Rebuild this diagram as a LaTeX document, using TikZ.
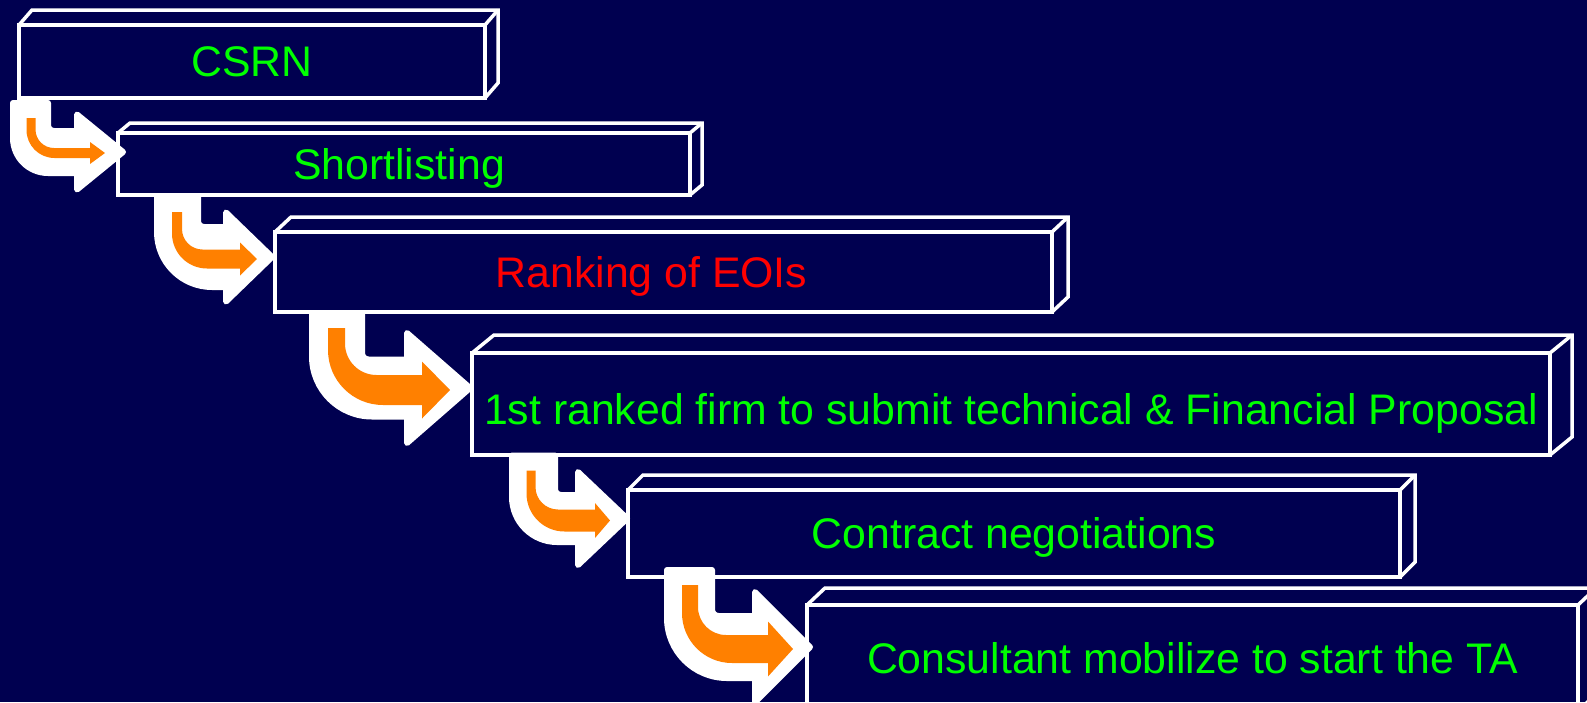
\documentclass[tikz,border=0pt]{standalone}
\usepackage{fontspec}
\setmainfont{Liberation Sans}
\definecolor{bgnavy}{RGB}{0,0,80}
\definecolor{textgreen}{RGB}{0,255,0}
\definecolor{textred}{RGB}{255,0,0}
\definecolor{arroworange}{RGB}{255,128,0}

\tikzset{
  stage/.style={draw=white, line width=3.5pt, text=textgreen, anchor=north west,
    inner sep=0pt, outer sep=0pt, font=\fontsize{42.8}{50}\selectfont,
    text height=30pt, text depth=0pt},
  edge/.style={draw=white, line width=3.5pt},
  whitearrow/.style={fill=white, draw=white, line width=6pt, line join=round},
  orangearrow/.style={fill=arroworange},
}

% 3d sides of a stage box: node, depth x, depth y
\newcommand{\boxdepth}[3]{%
  \draw[edge] (#1.north west) -- ++(#2,-#3) -- ([shift={(#2,-#3)}]#1.north east)
    -- ([shift={(#2,-#3)}]#1.south east) -- (#1.south east);
  \draw[edge] (#1.north east) -- ++(#2,-#3);}

% bent arrow: style, tip, shaft x, shaft top, half widths, head length, head half height, bend radius
\newcommand{\bentarrow}[9]{%
  \pgfmathsetmacro\rin{max(#9-#5-#6,6)}%
  \begin{scope}[shift={(#2)}]
    \path[#1] ({#3-#5},#4) -- ({#3+#5},#4)
      -- ({#3+#5},{-#6-\rin})
      .. controls ({#3+#5},{-#6-0.448*\rin}) and ({#3+#5+0.448*\rin},{-#6}) .. ({#3+#5+\rin},{-#6})
      -- ({-#7},{-#6}) -- ({-#7},{-#8}) -- (0,0) -- ({-#7},#8) -- ({-#7},#6)
      -- ({#3-#5+#9},#6)
      .. controls ({#3-#5+0.448*#9},#6) and ({#3-#5},{#6-0.448*#9}) .. ({#3-#5},{#6-#9})
      -- cycle;
  \end{scope}}

\begin{document}
\begin{tikzpicture}[x=1pt, y=-1pt]
  \useasboundingbox (0,0) rectangle (1587,702);
  \clip (0,0) rectangle (1587,702);
  \fill[bgnavy] (0,0) rectangle (1587,702);

  % the stages
  \node[stage, minimum width=466pt, minimum height=73pt] (csrn) at (19,25) {CSRN};
  \boxdepth{csrn}{13}{15}
  \node[stage, minimum width=572pt, minimum height=62pt] (short) at (118,133) {Shortlisting\hspace*{10pt}};
  \boxdepth{short}{12}{10}
  \node[stage, minimum width=777pt, minimum height=80pt, text=textred] (rank) at (275,232) {Ranking of EOIs\hspace*{24pt}};
  \boxdepth{rank}{16}{15}
  \node[stage, minimum width=1078pt, minimum height=102pt, text height=40pt] (prop) at (472,353) {1st ranked firm to submit technical \& Financial Proposal};
  \boxdepth{prop}{22}{18}
  \node[stage, minimum width=772pt, minimum height=87pt] (nego) at (628,490) {Contract negotiations};
  \boxdepth{nego}{15}{15}
  \node[stage, minimum width=771pt, minimum height=106pt] (mobil) at (807,605) {Consultant mobilize to start the TA};
  \boxdepth{mobil}{18}{17}

  % arrow tips
  \coordinate (tip1) at ([shift={(5,-12)}]short.west);
  \coordinate (tip2) at ([shift={(-3,-15)}]rank.west);
  \coordinate (tip3) at ([shift={(-2,-16)}]prop.west);
  \coordinate (tip4) at ([shift={(-1,-15)}]nego.west);
  \coordinate (tip5) at ([shift={(3,-11)}]mobil.west);
  \coordinate (otip1) at ([shift={(-18,1)}]tip1);
  \coordinate (otip2) at ([shift={(-15,2)}]tip2);
  \coordinate (otip3) at ([shift={(-20,2)}]tip3);
  \coordinate (otip4) at ([shift={(-17,2)}]tip4);
  \coordinate (otip5) at ([shift={(-17,2)}]tip5);

  % CSRN to Shortlisting
  \bentarrow{whitearrow}{tip1}{-92.5}{-49}{17.5}{21}{46}{37.5}{35}
  \bentarrow{orangearrow}{otip1}{-74}{-35}{4.5}{5}{15}{11}{28}
  % Shortlisting to Ranking
  \bentarrow{whitearrow}{tip2}{-94.5}{-60}{20.5}{30}{46}{44.5}{55}
  \bentarrow{orangearrow}{otip2}{-80}{-47}{5}{9.5}{17}{16.5}{35}
  % Ranking to proposal
  \bentarrow{whitearrow}{tip3}{-133}{-75}{25}{28.5}{63}{55}{60}
  \bentarrow{orangearrow}{otip3}{-113.5}{-62}{8.5}{15}{28}{28.5}{55}
  % proposal to negotiations
  \bentarrow{whitearrow}{tip4}{-93.5}{-63}{21.5}{23.5}{49}{46.5}{45}
  \bentarrow{orangearrow}{otip4}{-79}{-50}{4.5}{11}{15}{17.5}{38}
  % negotiations to mobilization
  \bentarrow{whitearrow}{tip5}{-120.5}{-77}{22.5}{31}{55}{55}{60}
  \bentarrow{orangearrow}{otip5}{-103}{-64}{8}{14}{25}{27.5}{50}
\end{tikzpicture}
\end{document}
